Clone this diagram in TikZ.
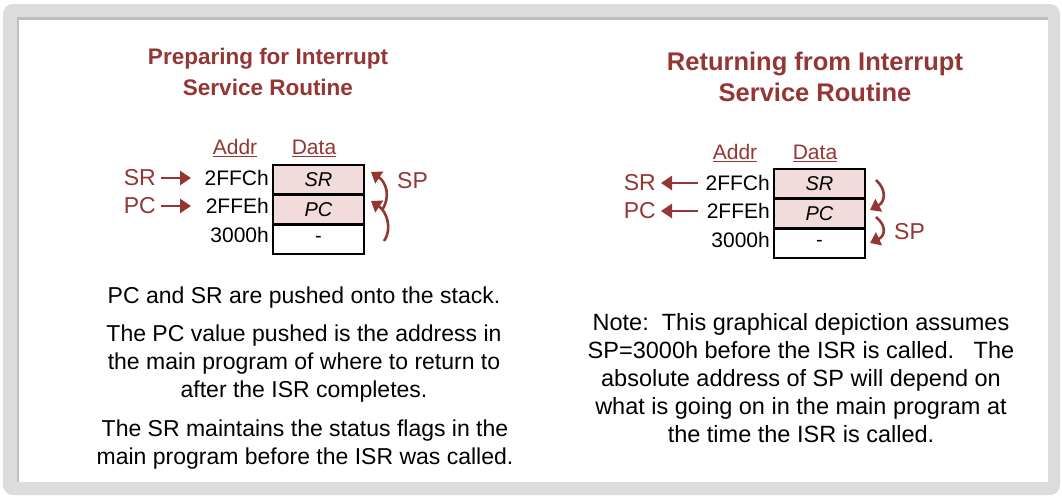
\documentclass[tikz,border=0pt]{standalone}
\usepackage{fontspec}
\setmainfont{Liberation Sans}
\usetikzlibrary{arrows.meta}
\definecolor{dred}{HTML}{943634}
\definecolor{cellpink}{HTML}{F2DCDB}
\definecolor{frame}{HTML}{DCDCDC}
\tikzset{
  title/.style={text=dred,font=\fontsize{22.5}{31}\selectfont\bfseries,align=center},
  body/.style={font=\fontsize{23}{28}\selectfont,align=center,text=black,inner sep=0pt},
  hdr/.style={text=dred,font=\fontsize{21}{22}\selectfont},
  addr/.style={font=\fontsize{21}{22}\selectfont,anchor=east,inner sep=1pt},
  reg/.style={text=dred,font=\fontsize{23}{24}\selectfont,inner sep=1pt},
  cell/.style={draw=black,line width=1.8pt,minimum width=91pt,minimum height=28.5pt,inner sep=0pt,font=\fontsize{20}{22}\selectfont\itshape},
  harrow/.style={draw=dred,line width=2.8pt,-{Triangle[length=11pt,width=14pt]}},
  carrow/.style={draw=dred,line width=2.6pt,-{Triangle[length=10pt,width=14pt]}}
}
\begin{document}
\begin{tikzpicture}[x=1pt,y=-1pt]
\useasboundingbox (0,0) rectangle (1062,498);
% frame
\fill[frame,rounded corners=10pt] (3,4) rectangle (1060,495);
\fill[black!25] (17,17) rectangle (1048,482);
\fill[white] (19,20) rectangle (1048,482);
% ---------- left panel
\node[title] (tl) at (268,72) {Preparing for Interrupt\\Service Routine};
\node[hdr] (ha1) at (235,148) {\underline{Addr}};
\node[hdr] (hd1) at (314,148) {\underline{Data}};
\node[cell,fill=cellpink,anchor=north west] (c11) at (272,164) {SR};
\node[cell,fill=cellpink,anchor=north] (c12) at (c11.south) {PC};
\node[cell,fill=white,anchor=north,font=\fontsize{20}{22}\selectfont] (c13) at (c12.south) {-};
\node[addr] (a11) at (270,178) {2FFCh};
\node[addr] (a12) at (270,206) {2FFEh};
\node[addr] (a13) at (270,235) {3000h};
\node[reg,anchor=east] (r11) at (157,178) {SR};
\node[reg,anchor=east] (r12) at (157,206) {PC};
\draw[harrow] (r11.east) ++(4,0) -- (a11.west -| 191,0);
\draw[harrow] (r12.east) ++(4,0) -- (a12.west -| 191,0);
\coordinate (u1s) at (382,210);
\coordinate (u1e) at (371,172);
\coordinate (u2s) at (384,241);
\coordinate (u2e) at (371,201);
\draw[carrow] (u1s) .. controls (391,197) and (386,182) .. (u1e);
\draw[carrow] (u2s) .. controls (393,228) and (386,211) .. (u2e);
\node[reg,anchor=west] (sp1) at (396,181) {SP};
\node[body] (b11) at (304,298) {PC and SR are pushed onto the stack.};
\node[body] (b12) at (304,364) {The PC value pushed is the address in\\the main program of where to return to\\after the ISR completes.};
\node[body] (b13) at (305,445) {The SR maintains the status flags in the\\main program before the ISR was called.};
% ---------- right panel
\node[title,font=\fontsize{25.5}{31}\selectfont\bfseries] (tr) at (815,77) {Returning from Interrupt\\Service Routine};
\node[hdr] (ha2) at (735,153) {\underline{Addr}};
\node[hdr] (hd2) at (815,153) {\underline{Data}};
\node[cell,fill=cellpink,anchor=north west] (c21) at (773,168) {SR};
\node[cell,fill=cellpink,anchor=north] (c22) at (c21.south) {PC};
\node[cell,fill=white,anchor=north,font=\fontsize{20}{22}\selectfont] (c23) at (c22.south) {-};
\node[addr] (a21) at (771,183) {2FFCh};
\node[addr] (a22) at (771,211) {2FFEh};
\node[addr] (a23) at (771,240) {3000h};
\node[reg,anchor=east] (r21) at (657,183) {SR};
\node[reg,anchor=east] (r22) at (657,211) {PC};
\coordinate (la1) at (698,183);
\coordinate (la2) at (698,211);
\draw[harrow] (la1) -- ([xshift=4pt]r21.east);
\draw[harrow] (la2) -- ([xshift=4pt]r22.east);
\coordinate (d1s) at (876,180);
\coordinate (d1e) at (870,210);
\coordinate (d2s) at (876,217);
\coordinate (d2e) at (870,243);
\draw[carrow] (d1s) .. controls (887,190) and (885,202) .. (d1e);
\draw[carrow] (d2s) .. controls (887,226) and (885,236) .. (d2e);
\node[reg,anchor=west] (sp2) at (893,232) {SP};
\node[body,font=\fontsize{23.5}{28}\selectfont] (b21) at (801,378) {Note:\ \ This graphical depiction assumes\\SP=3000h before the ISR is called.\ \ \ The\\absolute address of SP will depend on\\what is going on in the main program at\\the time the ISR is called.};
\end{tikzpicture}
\end{document}
